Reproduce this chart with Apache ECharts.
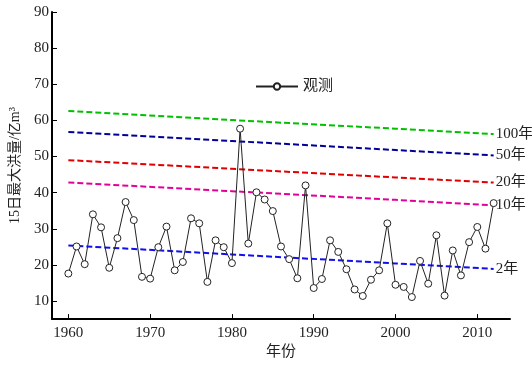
<!DOCTYPE html>
<html>
<head>
<meta charset="utf-8">
<script src="https://cdn.jsdelivr.net/npm/echarts@6/dist/echarts.min.js"></script>
<style>
  html, body { margin: 0; padding: 0; background: #fff; }
  #chart { width: 532px; height: 365px; }
</style>
</head>
<body>
<div id="chart"></div>
<script>
// observed annual 15-day maximum flood volume
const years = [];
for (let y = 1960; y <= 2012; y++) years.push(y);
const observed = [
  17.6, 25.1, 20.2, 34.0, 30.4, 19.2, 27.4, 37.4, 32.4, 16.7,
  16.2, 24.9, 30.6, 18.5, 20.8, 32.9, 31.5, 15.3, 26.8, 24.9,
  20.5, 57.7, 25.9, 40.1, 38.1, 34.9, 25.1, 21.6, 16.3, 42.0,
  13.6, 16.1, 26.8, 23.6, 18.8, 13.2, 11.4, 15.9, 18.5, 31.5,
  14.5, 13.9, 11.1, 21.1, 14.8, 28.2, 11.5, 24.0, 17.1, 26.3,
  30.5, 24.5, 37.1
];

// return period lines, read at a few years
const periodYears = [1960, 1980, 2000, 2012];
const y100 = [62.6, 60.1, 57.7, 56.2];
const y50 = [56.8, 54.3, 51.8, 50.3];
const y20 = [49.0, 46.6, 44.2, 42.8];
const y10 = [42.8, 40.4, 38.0, 36.5];
const y2 = [25.4, 22.9, 20.4, 18.9];

const xTicks = [1960, 1970, 1980, 1990, 2000, 2010];
const yTicks = [10, 20, 30, 40, 50, 60, 70, 80, 90];

const serif = '"Liberation Serif", "DejaVu Serif", "Noto Sans CJK SC", serif';

function periodLine(name, vals, color) {
  return {
    name: name,
    type: 'line',
    data: periodYears.map((y, i) => [y, vals[i]]),
    symbol: 'none',
    lineStyle: { color: color, width: 2, type: [6, 3] },
    endLabel: {
      show: true,
      formatter: name,
      color: '#222',
      fontSize: 15,
      fontFamily: serif,
      distance: 2
    },
    z: 1
  };
}

const chart = echarts.init(document.getElementById('chart'));
chart.setOption({
  animation: false,
  grid: { left: 48, right: 22, top: 12, bottom: 39 },
  legend: {
    data: ['观测'],
    left: 250,
    top: 74,
    itemWidth: 42,
    itemHeight: 8,
    textStyle: { fontSize: 15, fontFamily: serif, color: '#222' }
  },
  xAxis: {
    type: 'value',
    min: 1958,
    max: 2014,
    name: '年份',
    nameLocation: 'middle',
    nameGap: 22,
    nameTextStyle: { fontSize: 15, fontFamily: serif, color: '#222' },
    axisLine: { show: true, lineStyle: { color: '#000', width: 2 } },
    axisTick: { show: true, inside: true, length: 5, customValues: xTicks, lineStyle: { color: '#000' } },
    axisLabel: {
      customValues: xTicks,
      formatter: v => String(v),
      fontSize: 15, fontFamily: serif, color: '#222', margin: 6
    },
    splitLine: { show: false }
  },
  yAxis: {
    type: 'value',
    min: 5,
    max: 90,
    name: '15日最大洪量/亿m³',
    nameLocation: 'middle',
    nameGap: 30,
    nameTextStyle: { fontSize: 14, fontFamily: serif, color: '#222' },
    axisLine: { show: true, lineStyle: { color: '#000', width: 2 } },
    axisTick: { show: true, inside: true, length: 5, customValues: yTicks, lineStyle: { color: '#000' } },
    axisLabel: { customValues: yTicks, fontSize: 15, fontFamily: serif, color: '#222', margin: 3 },
    splitLine: { show: false }
  },
  series: [
    periodLine('100年', y100, '#00c000'),
    periodLine('50年', y50, '#000099'),
    periodLine('20年', y20, '#e00000'),
    periodLine('10年', y10, '#e0009a'),
    periodLine('2年', y2, '#1010ee'),
    {
      name: '观测',
      type: 'line',
      data: years.map((y, i) => [y, observed[i]]),
      symbol: 'circle',
      symbolSize: 7,
      lineStyle: { color: '#222', width: 1 },
      itemStyle: { color: '#fff', borderColor: '#222', borderWidth: 1 },
      z: 3
    }
  ]
});
</script>
</body>
</html>
